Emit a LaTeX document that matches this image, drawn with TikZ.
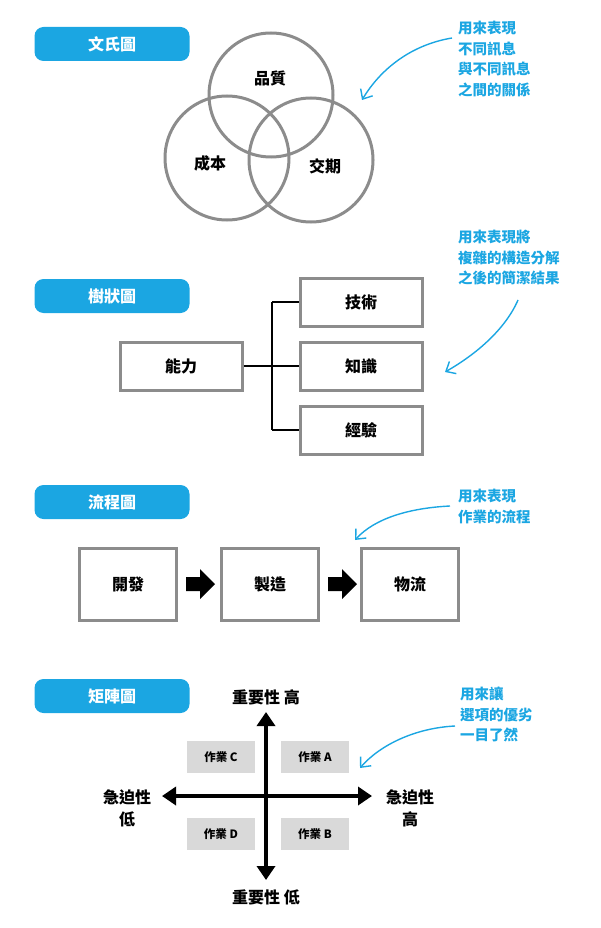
\documentclass[tikz,border=0pt]{standalone}
\usepackage{fontspec}
\setmainfont{Noto Sans CJK TC}
\usetikzlibrary{arrows.meta}
\definecolor{cblue}{HTML}{1BA6E2}
\definecolor{cgray}{HTML}{8C8C8C}
\definecolor{lgray}{HTML}{D9D9D9}
\tikzset{
 tag/.style={fill=cblue,rounded corners=9pt,text=white,font=\bfseries\fontsize{16}{18}\selectfont,minimum width=155pt,minimum height=34pt,inner sep=0pt},
 note/.style={text=cblue,font=\bfseries\fontsize{14.5}{20.5}\selectfont,align=left,anchor=north west,inner sep=0pt},
 noteArrow/.style={cblue,line width=1.4pt,-{Straight Barb[length=8pt,width=14pt]}},
 gbox/.style={draw=cgray,line width=3pt,fill=white,font=\bfseries\fontsize{16}{18}\selectfont,inner sep=0pt},
 circ/.style={draw=cgray,line width=3pt,circle,minimum size=124pt,inner sep=0pt},
 lab/.style={font=\bfseries\fontsize{16}{22}\selectfont,align=center,inner sep=0pt},
 qbox/.style={fill=lgray,font=\bfseries\fontsize{11.5}{13}\selectfont,minimum width=68pt,minimum height=32pt,inner sep=0pt},
 axis/.style={line width=4pt,-{Triangle[length=14pt,width=18pt]}}
}
\begin{document}
\begin{tikzpicture}[x=1pt,y=-1pt]
\useasboundingbox (0,0) rectangle (600,928);
% Venn
\node[tag] (t1) at (112,44) {文氏圖};
\node[circ] (c1) at (271,95) {};
\node[circ] (c2) at (227,158) {};
\node[circ] (c3) at (311,160) {};
\node[lab] (l1) at (270,78) {品質};
\node[lab] (l2) at (210,163) {成本};
\node[lab] (l3) at (325,166) {交期};
\node[note] (n1) at (458,21) {用來表現\\不同訊息\\與不同訊息\\之間的關係};
\coordinate (a1) at (362,100);
\draw[noteArrow] (452,38) .. controls (410,45) and (380,70) .. (a1);
% Tree
\node[tag] (t2) at (112,296) {樹狀圖};
\node[gbox,minimum width=122pt,minimum height=48pt] (root) at (181,366) {能力};
\node[gbox,minimum width=122pt,minimum height=48pt] (b1) at (361,302) {技術};
\node[gbox,minimum width=122pt,minimum height=48pt] (b2) at (361,366) {知識};
\node[gbox,minimum width=122pt,minimum height=48pt] (b3) at (361,430) {經驗};
\coordinate (j) at (272,366);
\draw[line width=2.5pt] (root.east) -- (j);
\draw[line width=2.5pt] (j|-b1) -- (j|-b3);
\draw[line width=2.5pt] (j|-b1) -- (b1.west);
\draw[line width=2.5pt] (j) -- (b2.west);
\draw[line width=2.5pt] (j|-b3) -- (b3.west);
\node[note] (n2) at (458,230) {用來表現將\\複雜的構造分解\\之後的簡潔結果};
\coordinate (a2) at (445,372);
\draw[noteArrow] (518,300) .. controls (505,330) and (475,355) .. (a2);
% Flow
\node[tag] (t3) at (112,502) {流程圖};
\node[gbox,minimum width=97pt,minimum height=72pt] (f1) at (128,584) {開發};
\node[gbox,minimum width=97pt,minimum height=72pt] (f2) at (270,584) {製造};
\node[gbox,minimum width=97pt,minimum height=72pt] (f3) at (410,584) {物流};
\coordinate (ba1) at (186,584);
\coordinate (ba2) at (328,584);
\foreach \b in {ba1,ba2}
  \fill ([shift={(0,-7)}]\b) -- ++(14,0) -- ++(0,-8) -- ++(15,15) -- ++(-15,15) -- ++(0,-8) -- ++(-14,0) -- cycle;
\node[note] (n3) at (458,489) {用來表現\\作業的流程};
\coordinate (a3) at (355,540);
\draw[noteArrow] (450,506) .. controls (410,508) and (375,518) .. (a3);
% Matrix
\node[tag] (t4) at (112,696) {矩陣圖};
\coordinate (o) at (266,796);
\coordinate (top) at (266,712);
\coordinate (bot) at (266,880);
\coordinate (lft) at (162,796);
\coordinate (rgt) at (372,796);
\draw[axis] (o) -- (top);
\draw[axis] (o) -- (bot);
\draw[axis] (o) -- (lft);
\draw[axis] (o) -- (rgt);
\node[qbox] (qc) at (221,757) {作業 C};
\node[qbox] (qa) at (315,757) {作業 A};
\node[qbox] (qd) at (221,834) {作業 D};
\node[qbox] (qb) at (315,834) {作業 B};
\node[lab] (yh) at (266,697) {重要性 高};
\node[lab] (yl) at (266,897) {重要性 低};
\node[lab] (xl) at (127,808) {急迫性\\低};
\node[lab] (xh) at (410,808) {急迫性\\高};
\node[note] (n4) at (460,687) {用來讓\\選項的優劣\\一目了然};
\coordinate (a4) at (360,768);
\draw[noteArrow] (455,726) .. controls (415,728) and (380,745) .. (a4);
\end{tikzpicture}
\end{document}
